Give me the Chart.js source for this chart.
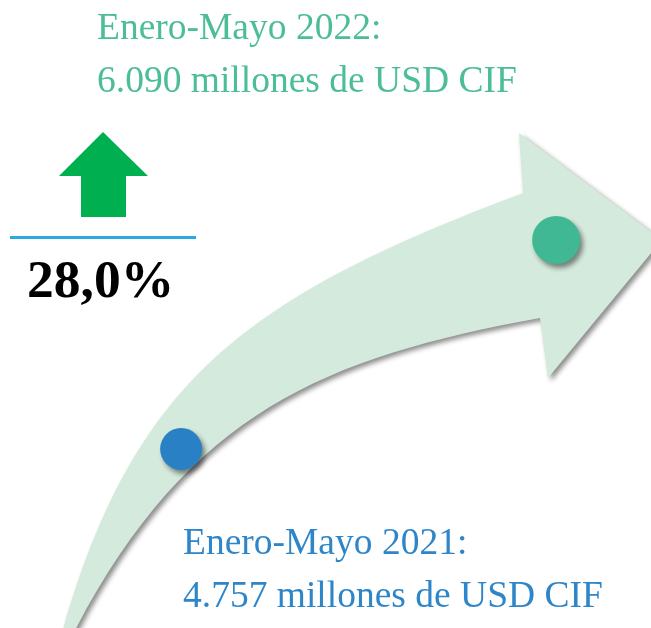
<!DOCTYPE html>
<html>
<head>
<meta charset="utf-8">
<script src="https://cdn.jsdelivr.net/npm/chart.js@4/dist/chart.umd.min.js"></script>
<style>
  body { margin: 0; background: #fff; }
  #wrap { position: relative; width: 651px; height: 628px; overflow: hidden; }
  #wrap canvas { position: absolute; left: 0; top: 0; }
  .lbl { position: absolute; font-family: "Liberation Serif", "Times New Roman", serif; white-space: nowrap; }
  #topLbl { left: 97px; top: 0px; font-size: 37.5px; line-height: 53px; color: #4bbd97; }
  #botLbl { left: 183px; top: 515px; font-size: 37.5px; line-height: 53px; color: #2e86c8; }
  #pctLbl { left: 27px; top: 253px; font-size: 53.5px; line-height: 53px; font-weight: bold; color: #000; }
</style>
</head>
<body>
<div id="wrap">
  <canvas id="growthChart" width="651" height="628"></canvas>
  <div class="lbl" id="topLbl"></div>
  <div class="lbl" id="botLbl"></div>
  <div class="lbl" id="pctLbl"></div>
</div>
<script>
var periods = ["Enero-Mayo 2021", "Enero-Mayo 2022"];
var years = [2021, 2022];
var values = [4757, 6090];   // millones de USD CIF
var unit = "millones de USD CIF";
var dotColors = ["#2a80c4", "#40b894"];

function fmt_num(n){
    return String(n).replace(/\B(?=(\d{3})+(?!\d))/g, ".");
}

function set_labels(){
    var pct = (values[1] / values[0] - 1) * 100;
    document.getElementById("topLbl").innerHTML = periods[1] + ":<br>" + fmt_num(values[1]) + " " + unit;
    document.getElementById("botLbl").innerHTML = periods[0] + ":<br>" + fmt_num(values[0]) + " " + unit;
    document.getElementById("pctLbl").textContent = pct.toFixed(1).replace(".", ",") + "%";
}

// big curved arrow + small up arrow, drawn behind the points
var decoPlugin = {
    id: "deco",
    beforeDatasetsDraw: function(chart){
        var ctx = chart.ctx;
        ctx.save();
        ctx.shadowColor = "rgba(0,0,0,0.45)";
        ctx.shadowBlur = 5;
        ctx.shadowOffsetX = 3;
        ctx.shadowOffsetY = 3;
        ctx.fillStyle = "#d4eadc";
        ctx.beginPath();
        ctx.moveTo(60, 640);
        ctx.bezierCurveTo(132, 385, 238, 300, 523, 193);
        ctx.lineTo(519, 133);
        ctx.lineTo(662, 240);
        ctx.lineTo(548, 378);
        ctx.lineTo(540, 318);
        ctx.bezierCurveTo(320, 358, 185, 415, 70, 640);
        ctx.closePath();
        ctx.fill();
        ctx.restore();

        ctx.save();
        ctx.fillStyle = "#00b050";
        ctx.beginPath();
        ctx.moveTo(103, 132);
        ctx.lineTo(148, 176);
        ctx.lineTo(126, 176);
        ctx.lineTo(126, 217);
        ctx.lineTo(81, 217);
        ctx.lineTo(81, 176);
        ctx.lineTo(59, 176);
        ctx.closePath();
        ctx.fill();
        ctx.strokeStyle = "#29abe2";
        ctx.lineWidth = 3;
        ctx.beginPath();
        ctx.moveTo(10, 237.5);
        ctx.lineTo(196, 237.5);
        ctx.stroke();
        ctx.restore();
    },
    beforeDatasetDraw: function(chart){
        var ctx = chart.ctx;
        ctx.save();
        ctx.shadowColor = "rgba(0,0,0,0.45)";
        ctx.shadowBlur = 5;
        ctx.shadowOffsetX = 3;
        ctx.shadowOffsetY = 4;
    },
    afterDatasetDraw: function(chart){
        chart.ctx.restore();
    }
};

function get_growth_chart(){
    var pts = years.map(function(y, i){ return {x: y, y: values[i]}; });

    new Chart("growthChart", {
        type: "scatter",
        data: {
            datasets: [{
                data: pts,
                pointRadius: [21, 24],
                pointBackgroundColor: dotColors,
                pointBorderWidth: 0,
                pointHoverRadius: [21, 24]
            }]
        },
        options: {
            responsive: false,
            animation: false,
            layout: { padding: 0, autoPadding: false },
            plugins: { legend: { display: false }, tooltip: { enabled: false } },
            scales: {
                x: { type: "linear", display: false, min: 2020.517, max: 2022.253 },
                y: { type: "linear", display: false, min: 3615, max: 7621 }
            }
        },
        plugins: [decoPlugin]
    });
}

set_labels();
get_growth_chart();
</script>
</body>
</html>
